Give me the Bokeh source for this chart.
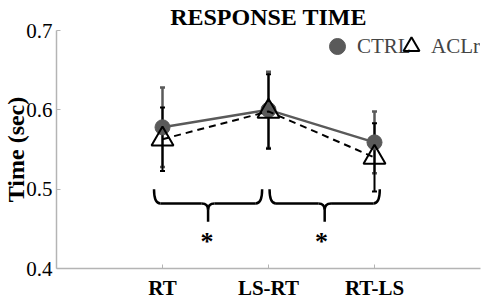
from bokeh.plotting import figure
from bokeh.models import ColumnDataSource, Whisker, TeeHead, Legend, LegendItem, FixedTicker, Range1d
from bokeh.core.properties import value
from bokeh.embed import file_html
from bokeh.resources import INLINE

categories = ["RT", "LS-RT", "RT-LS"]
ctrl_mean = [0.578, 0.600, 0.559]
ctrl_err = [0.050, 0.048, 0.039]
aclr_mean = [0.563, 0.598, 0.540]
aclr_err = [0.040, 0.047, 0.043]
y_ticks = [0.4, 0.5, 0.6, 0.7]

# significance braces (x in category positions, y in seconds)
brace_left = [0.92, 2.01]
brace_right = [1.94, 3.05]
brace_tip = [1.43, 2.53]
brace_top = 0.500
brace_mid = 0.482
brace_end = 0.459
star_x = [1.42, 2.50]
star_y = 0.434

SERIF = "Liberation Serif"
GRAY = "#5a5a5a"

xs = [i + 1 for i in range(len(categories))]

p = figure(frame_width=424, frame_height=238, output_backend="svg", toolbar_location=None,
           x_range=Range1d(0, 4), y_range=Range1d(0.4, 0.7),
           min_border_left=49, min_border_right=3, min_border_bottom=20, min_border_top=10)
p.outline_line_color = None
p.grid.visible = False
p.background_fill_color = "white"

p.title.text = "RESPONSE TIME"
p.title.align = "center"
p.title.text_font = SERIF
p.title.text_font_style = "bold"
p.title.text_font_size = "24px"
p.title.text_color = "black"
p.title.standoff = 2

# axes
for ax in (p.xaxis[0], p.yaxis[0]):
    ax.axis_line_color = "#b4b4b4"
    ax.axis_line_width = 1.5
    ax.major_tick_line_color = "#b4b4b4"
    ax.major_tick_in = 4
    ax.major_tick_out = 0
    ax.minor_tick_in = 0
    ax.minor_tick_out = 0
    ax.minor_tick_line_color = None
    ax.major_label_text_color = "black"
    ax.major_label_text_font = SERIF

p.yaxis.ticker = FixedTicker(ticks=y_ticks)
p.yaxis.major_label_overrides = {t: f"{t:.1f}" for t in y_ticks}
p.yaxis.major_label_text_font_size = "21px"
p.yaxis.major_label_standoff = 4
p.yaxis.axis_label = "Time (sec)"
p.yaxis.axis_label_text_font = SERIF
p.yaxis.axis_label_text_font_style = "bold"
p.yaxis.axis_label_text_font_size = "24px"
p.yaxis.axis_label_standoff = -6
p.yaxis.axis_label_text_color = "black"

p.xaxis.ticker = FixedTicker(ticks=xs)
p.xaxis.major_label_overrides = {x: c for x, c in zip(xs, categories)}
p.xaxis.major_label_text_font_size = "21px"
p.xaxis.major_label_text_font_style = "bold"
p.xaxis.major_label_standoff = 7

# CTRL
src_c = ColumnDataSource(dict(x=xs, y=ctrl_mean,
                              lo=[m - e for m, e in zip(ctrl_mean, ctrl_err)],
                              hi=[m + e for m, e in zip(ctrl_mean, ctrl_err)]))
p.add_layout(Whisker(source=src_c, base="x", upper="hi", lower="lo", line_color=GRAY, line_width=2.5,
                     upper_head=TeeHead(size=5, line_color=GRAY, line_width=2.5),
                     lower_head=TeeHead(size=5, line_color=GRAY, line_width=2.5)))
p.line("x", "y", source=src_c, line_color=GRAY, line_width=2.5)
r_c = p.scatter("x", "y", source=src_c, marker="circle", size=15, fill_color=GRAY, line_color=GRAY)

# ACLr
src_a = ColumnDataSource(dict(x=xs, y=aclr_mean,
                              lo=[m - e for m, e in zip(aclr_mean, aclr_err)],
                              hi=[m + e for m, e in zip(aclr_mean, aclr_err)]))
p.add_layout(Whisker(source=src_a, base="x", upper="hi", lower="lo", line_color="black", line_width=2,
                     upper_head=TeeHead(size=5, line_color="black", line_width=2),
                     lower_head=TeeHead(size=5, line_color="black", line_width=2)))
p.line("x", "y", source=src_a, line_color="black", line_width=2, line_dash="7 5")
r_a = p.scatter("x", "y", source=src_a, marker="triangle", size=22, fill_alpha=0,
                line_color="black", line_width=2)

# braces
d = 0.06
for x0, x1, xt in zip(brace_left, brace_right, brace_tip):
    e = (brace_mid - brace_end) * 0.35
    p.quadratic(x0=[x0, x1], y0=[brace_top, brace_top], x1=[x0 + d, x1 - d], y1=[brace_mid, brace_mid],
                cx=[x0, x1], cy=[brace_mid, brace_mid], line_color="black", line_width=2.5)
    p.segment(x0=[x0 + d, xt + d], y0=[brace_mid, brace_mid], x1=[xt - d, x1 - d], y1=[brace_mid, brace_mid],
              line_color="black", line_width=2.5)
    p.quadratic(x0=[xt - d, xt + d], y0=[brace_mid, brace_mid], x1=[xt, xt], y1=[brace_mid - e, brace_mid - e],
                cx=[xt, xt], cy=[brace_mid, brace_mid], line_color="black", line_width=2.5)
    p.segment(x0=[xt], y0=[brace_mid - e], x1=[xt], y1=[brace_end], line_color="black", line_width=2.5)

p.text(x=star_x, y=[star_y] * len(star_x), text=["*"] * len(star_x), text_font=value(SERIF),
       text_font_size="26px", text_font_style="bold", text_align="center", text_baseline="middle",
       text_color="black")

leg_style = dict(orientation="horizontal", border_line_color=None, background_fill_alpha=0,
                 label_text_font=SERIF, label_text_font_size="21px", glyph_width=40, glyph_height=40,
                 label_standoff=0, spacing=0, padding=0, margin=0)
p.add_layout(Legend(items=[LegendItem(label="CTRL", renderers=[r_c])], location=(261, 202), **leg_style))
p.add_layout(Legend(items=[LegendItem(label="ACLr", renderers=[r_a])], location=(335, 202), **leg_style))

open("out.html", "w").write(file_html(p, INLINE))
